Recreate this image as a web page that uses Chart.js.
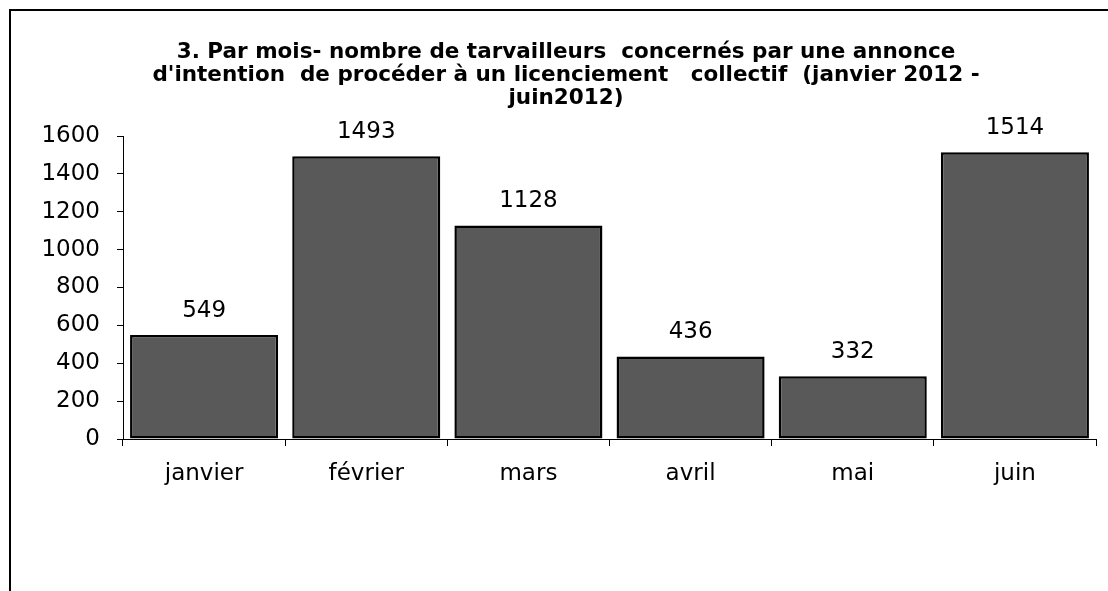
<!DOCTYPE html>
<html>
<head>
<meta charset="utf-8">
<script src="https://cdn.jsdelivr.net/npm/chart.js@4.4.1/dist/chart.umd.min.js"></script>
<style>
  html, body { margin: 0; padding: 0; background: #fff; }
  #wrap { position: relative; width: 1108px; height: 591px; overflow: hidden; }
  #frame {
    position: absolute; left: 9px; top: 9px; width: 1200px; height: 700px;
    border-left: 2px solid #000; border-top: 2px solid #000;
  }
  #chart { position: absolute; left: 0; top: 0; }
</style>
</head>
<body>
<div id="wrap">
  <div id="frame"></div>
  <canvas id="chart" width="1108" height="591"></canvas>
</div>
<script>
const months = ['janvier', 'février', 'mars', 'avril', 'mai', 'juin'];
const workers = [549, 1493, 1128, 436, 332, 1514];
const titleLines = [
  '3. Par mois- nombre de tarvailleurs  concernés par une annonce',
  'd\'intention  de procéder à un licenciement   collectif  (janvier 2012 -',
  'juin2012)',
];

const FONT = "'DejaVu Sans', Arial, sans-serif";

// draws the value above every bar
const valueLabels = {
  id: 'valueLabels',
  afterDatasetsDraw(chart) {
    const { ctx } = chart;
    const meta = chart.getDatasetMeta(0);
    ctx.save();
    ctx.font = `23px ${FONT}`;
    ctx.fillStyle = '#000';
    ctx.textAlign = 'center';
    ctx.textBaseline = 'alphabetic';
    meta.data.forEach((bar, i) => {
      ctx.fillText(String(workers[i]), bar.x, bar.y - 18);
    });
    ctx.restore();
  },
};

new Chart(document.getElementById('chart'), {
  type: 'bar',
  data: {
    labels: months,
    datasets: [{
      data: workers,
      backgroundColor: '#595959',
      borderColor: '#000',
      borderWidth: 2.5,
      borderSkipped: false,
      barPercentage: 0.913,
      categoryPercentage: 1,
    }],
  },
  options: {
    responsive: false,
    animation: false,
    layout: {
      // left padding shifts the centred title to the right, as in the source
      padding: { left: 36, right: 12, top: 0, bottom: 100 },
    },
    plugins: {
      legend: { display: false },
      tooltip: { enabled: false },
      title: {
        display: true,
        text: titleLines,
        color: '#000',
        font: { family: FONT, size: 21.5, weight: 'bold', lineHeight: '23px' },
        padding: { top: 41, bottom: 26 },
      },
    },
    scales: {
      x: {
        grid: {
          drawOnChartArea: false,
          drawTicks: true,
          tickLength: 7,
          color: '#000',
        },
        border: { display: true, color: '#000', width: 1 },
        ticks: {
          color: '#000',
          font: { family: FONT, size: 23 },
          padding: 14,
          maxRotation: 0,
        },
        afterFit(scale) { scale.height = 52; },
      },
      y: {
        min: 0,
        max: 1600,
        grid: {
          drawOnChartArea: false,
          drawTicks: true,
          tickLength: 6,
          color: '#000',
        },
        border: { display: true, color: '#000', width: 1 },
        ticks: {
          stepSize: 200,
          color: '#000',
          font: { family: FONT, size: 23 },
          padding: 17,
          callback: (v) => String(v),
        },
        afterFit(scale) { scale.width = 87; },
      },
    },
  },
  plugins: [valueLabels],
});
</script>
</body>
</html>
